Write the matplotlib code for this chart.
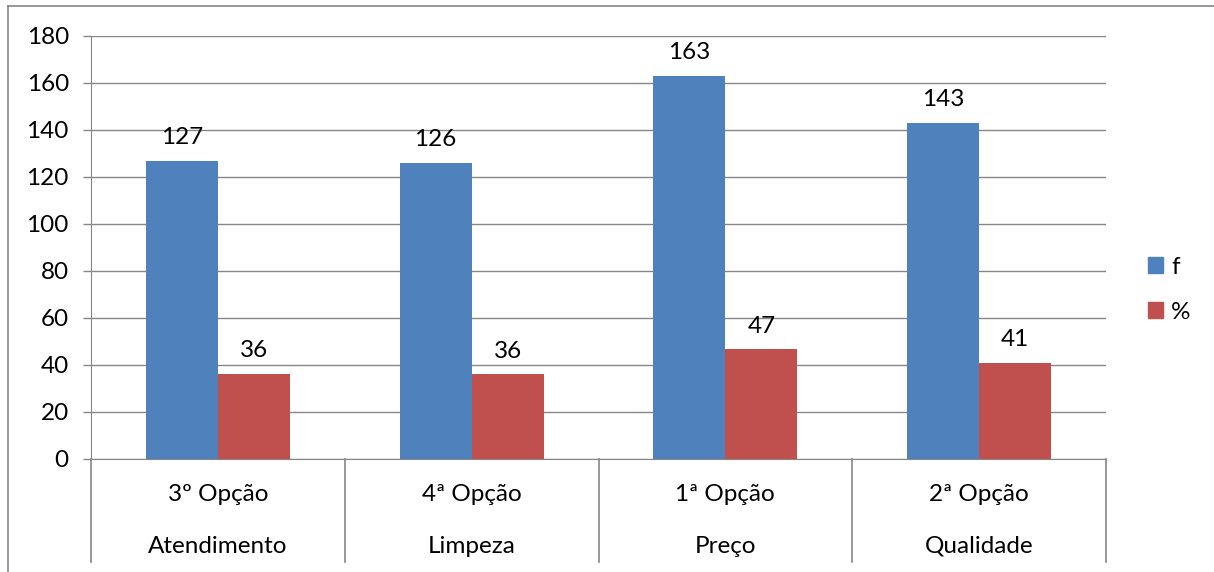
import numpy as np
import matplotlib.pyplot as plt
from matplotlib.lines import Line2D
from matplotlib.patches import Patch

# data
opcoes = ['3º Opção', '4ª Opção', '1ª Opção', '2ª Opção']
fatores = ['Atendimento', 'Limpeza', 'Preço', 'Qualidade']
freq = [127, 126, 163, 143]
perc = [36.3, 36.0, 46.6, 40.9]
perc_labels = ['36', '36', '47', '41']

blue = '#4F81BD'
red = '#C0504D'
grid = '#868686'
fs = 17.5

plt.rcParams['font.family'] = ['Lato', 'DejaVu Sans']

fig = plt.figure(figsize=(12.14, 5.72), dpi=100)
ax = fig.add_axes([0.075, 0.1976, 0.836, 0.7395])

x = np.arange(len(fatores))
w = 0.284
b1 = ax.bar(x - w / 2, freq, w, color=blue, zorder=3)
b2 = ax.bar(x + w / 2, perc, w, color=red, zorder=3)

for rect, v in zip(b1, freq):
    ax.annotate(str(v), (rect.get_x() + rect.get_width() / 2, rect.get_height()),
                xytext=(0, 9), textcoords='offset points', ha='center', va='bottom', fontsize=fs)
for rect, lab in zip(b2, perc_labels):
    ax.annotate(lab, (rect.get_x() + rect.get_width() / 2, rect.get_height()),
                xytext=(0, 9), textcoords='offset points', ha='center', va='bottom', fontsize=fs)

ax.set_xlim(-0.5, len(fatores) - 0.5)
ax.set_ylim(0, 180)
ax.set_yticks(range(0, 181, 20))
ax.tick_params(axis='y', labelsize=fs, length=6, color=grid, width=1, pad=10)
ax.set_xticks([])
ax.yaxis.grid(True, color=grid, linewidth=1, zorder=0)
ax.set_axisbelow(True)
for s in ['top', 'right']:
    ax.spines[s].set_visible(False)
ax.spines['left'].set_color(grid)
ax.spines['bottom'].set_color(grid)

# category separators and two-level labels
trans = ax.get_xaxis_transform()
for b in np.arange(-0.5, len(fatores), 1.0):
    ax.plot([b, b], [0, -0.2435], color=grid, linewidth=1.2, transform=trans, clip_on=False)
for i in range(len(fatores)):
    ax.text(x[i], -0.083, opcoes[i], transform=trans, ha='center', va='center', fontsize=fs)
    ax.text(x[i], -0.206, fatores[i], transform=trans, ha='center', va='center', fontsize=fs)

handles = [Patch(color=blue, label='f'), Patch(color=red, label='%')]
ax.legend(handles=handles, loc='center left', bbox_to_anchor=(1.041, 0.40), frameon=False,
          borderpad=0, borderaxespad=0, fontsize=fs, handlelength=0.62, handleheight=0.62,
          handletextpad=0.35, labelspacing=1.0)

# outer chart frame (cropped)
fig.add_artist(Line2D([8 / 1214, 1], [1 - 6 / 572, 1 - 6 / 572], color=grid, linewidth=1.2))
fig.add_artist(Line2D([8 / 1214, 8 / 1214], [0, 1 - 6 / 572], color=grid, linewidth=1.2))

fig.savefig('out.png', dpi=100)
